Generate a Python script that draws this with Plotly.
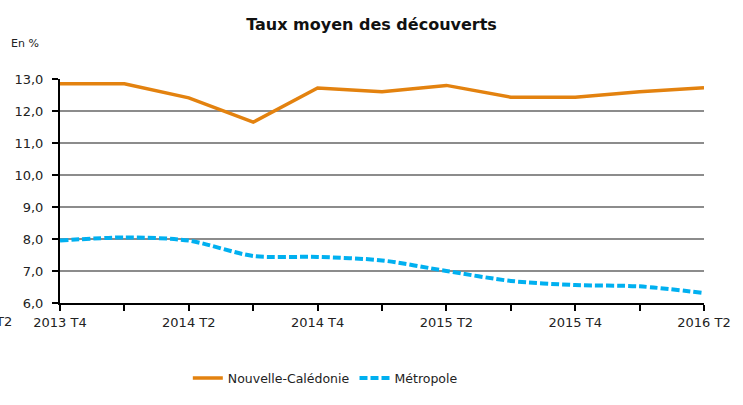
import plotly.graph_objects as go

categories = ["2013 T4", "2014 T1", "2014 T2", "2014 T3", "2014 T4", "2015 T1",
              "2015 T2", "2015 T3", "2015 T4", "2016 T1", "2016 T2"]
nouvelle_caledonie = [12.85, 12.85, 12.41, 11.65, 12.72, 12.6, 12.8, 12.43, 12.43, 12.6, 12.73]
metropole = [7.95, 8.05, 7.95, 7.47, 7.44, 7.33, 7.0, 6.69, 6.56, 6.52, 6.31]
tick_labels = [c if i % 2 == 0 else "" for i, c in enumerate(categories)]
y_ticks = [6, 7, 8, 9, 10, 11, 12, 13]
y_tick_labels = ["6,0", "7,0", "8,0", "9,0", "10,0", "11,0", "12,0", "13,0"]

FONT = "DejaVu Sans"

fig = go.Figure()
fig.add_trace(go.Scatter(
    x=categories, y=nouvelle_caledonie, name="Nouvelle-Calédonie", mode="lines",
    line=dict(color="#E3820F", width=3.5),
))
fig.add_trace(go.Scatter(
    x=categories, y=metropole, name="Métropole", mode="lines",
    line=dict(color="#00B0F0", width=4, dash="8px,3px", shape="spline", smoothing=0.8),
))

fig.update_layout(
    width=743, height=405,
    margin=dict(l=60, r=28, t=79, b=88),
    paper_bgcolor="white", plot_bgcolor="white",
    font=dict(family=FONT, size=13, color="#222222"),
    title=dict(text="<b>Taux moyen des découverts</b>", x=0.5, xanchor="center",
               y=1 - 24 / 405, yanchor="middle", font=dict(family=FONT, size=16, color="#111111")),
    showlegend=True,
    legend=dict(orientation="h", x=(190 - 60) / 655, xanchor="left",
                y=(317 - 397) / 238, yanchor="middle",
                font=dict(family=FONT, size=12.5, color="#222222"),
                itemwidth=30, tracegroupgap=0, bgcolor="rgba(0,0,0,0)"),
    xaxis=dict(
        type="category", range=[0, 10], tickmode="array", tickvals=categories, ticktext=tick_labels,
        showgrid=False, showline=True, linecolor="black", linewidth=2,
        ticks="outside", ticklen=6, tickwidth=2, tickcolor="black",
        tickfont=dict(family=FONT, size=13, color="#222222"), zeroline=False,
    ),
    yaxis=dict(
        range=[6, 13], tickmode="array", tickvals=y_ticks, ticktext=y_tick_labels,
        showgrid=True, gridcolor="#8C8C8C", gridwidth=2,
        showline=True, linecolor="black", linewidth=2,
        ticks="outside", ticklen=6, tickwidth=2, tickcolor="black", ticklabelstandoff=6,
        tickfont=dict(family=FONT, size=13, color="#222222"), zeroline=False,
    ),
    annotations=[
        dict(text="En %", xref="paper", yref="paper", x=(8 - 60) / 655, xanchor="left",
             y=(317 - 41) / 238, yanchor="middle", showarrow=False,
             font=dict(family=FONT, size=11, color="#222222")),
        dict(text="T2", xref="paper", yref="paper", x=(13 - 60) / 655, xanchor="right",
             y=(317 - 337) / 238, yanchor="middle", showarrow=False,
             font=dict(family=FONT, size=13, color="#222222")),
    ],
)

fig.write_html("out.html")
